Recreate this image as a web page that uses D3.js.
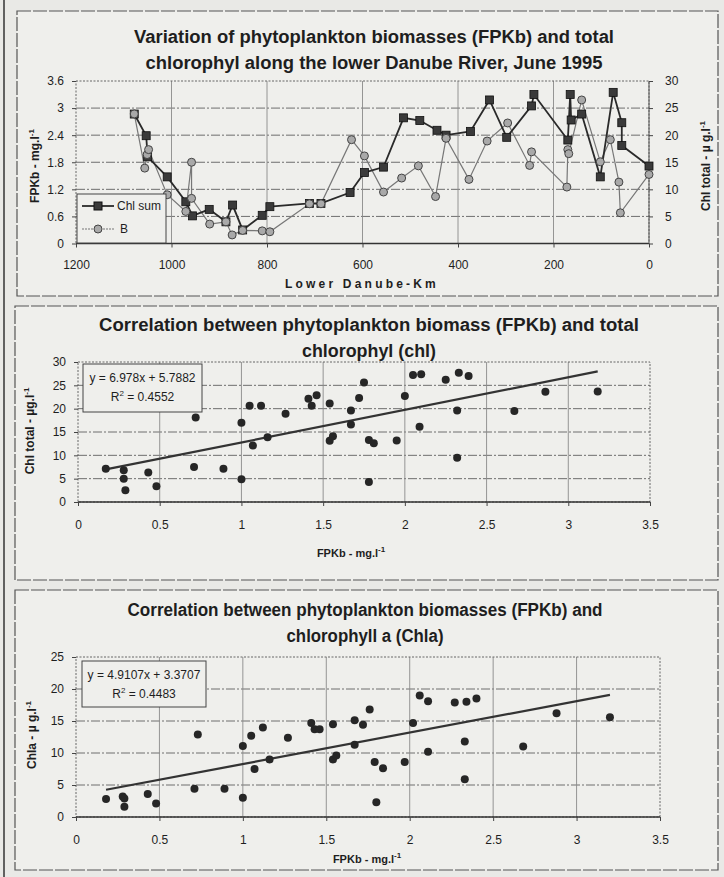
<!DOCTYPE html>
<html>
<head>
<meta charset="utf-8">
<script src="https://cdn.jsdelivr.net/npm/d3@7"></script>
<style>
  body { margin: 0; background: #e9e9e6; }
  svg { display: block; font-family: "Liberation Sans", Arial, sans-serif; }
</style>
</head>
<body>
<svg id="fig" width="724" height="877"></svg>
<script>
// ---- top chart: values along the lower Danube (km from mouth) ----
const chlKm  = [1078, 1053, 1050, 1009, 970, 956, 921, 886, 872, 851, 810, 794, 711, 687, 626, 596, 556, 514, 480, 444, 425, 374, 334, 298, 246, 241, 170, 165, 163, 141, 102, 75, 57, 57, 0];
const chlSum = [23.9, 19.9, 16.0, 12.3, 7.7, 5.1, 6.3, 4.0, 7.1, 2.5, 5.2, 6.8, 7.4, 7.4, 9.4, 13.1, 14.1, 23.2, 22.7, 20.9, 20.0, 20.7, 26.5, 19.6, 25.4, 27.5, 19.1, 27.5, 22.8, 23.9, 12.3, 27.9, 22.3, 18.1, 14.3];
const bKm    = [1078, 1056, 1051, 1048, 1009, 970, 958, 958, 920, 886, 873, 851, 810, 794, 711, 687, 623, 596, 556, 518, 483, 447, 425, 377, 339, 296, 250, 246, 172, 170, 168, 141, 102, 81, 63, 60, 0];
const bVal   = [2.87, 1.67, 1.97, 2.08, 1.08, 0.71, 1.80, 1.00, 0.43, 0.48, 0.19, 0.29, 0.28, 0.26, 0.88, 0.88, 2.30, 1.94, 1.14, 1.45, 1.72, 1.04, 2.33, 1.42, 2.27, 2.67, 1.73, 2.03, 1.25, 2.08, 1.99, 3.18, 1.81, 2.30, 1.36, 0.68, 1.53];
const kmTicks   = [1200, 1000, 800, 600, 400, 200, 0];
const fpkbTicks = [0, 0.6, 1.2, 1.8, 2.4, 3, 3.6];
const chlTicks  = [0, 5, 10, 15, 20, 25, 30];

// ---- middle chart: FPKb vs total chlorophyl ----
const fpkbA = [0.17, 0.28, 0.28, 0.29, 0.43, 0.48, 0.71, 0.72, 0.89, 1.00, 1.00, 1.05, 1.07, 1.12, 1.16, 1.27, 1.41, 1.43, 1.46, 1.54, 1.54, 1.56, 1.67, 1.67, 1.72, 1.75, 1.78, 1.78, 1.81, 1.95, 2.00, 2.05, 2.09, 2.10, 2.25, 2.32, 2.32, 2.33, 2.39, 2.67, 2.86, 3.18];
const chlTot = [7.1, 6.8, 5.0, 2.5, 6.3, 3.4, 7.5, 18.1, 7.1, 17.0, 4.9, 20.6, 12.1, 20.6, 13.9, 18.9, 22.1, 20.6, 22.9, 21.1, 13.1, 14.1, 16.6, 19.6, 22.3, 25.6, 13.3, 4.3, 12.6, 13.2, 22.7, 27.2, 16.1, 27.4, 26.2, 19.6, 9.5, 27.7, 27.0, 19.5, 23.6, 23.7];
const chlFit = [6.978, 5.7882, 0.4552];
const chlXTicks = [0, 0.5, 1, 1.5, 2, 2.5, 3, 3.5];
const chlYTicks = [0, 5, 10, 15, 20, 25, 30];

// ---- bottom chart: FPKb vs chlorophyll a ----
const fpkbB = [0.18, 0.28, 0.29, 0.29, 0.43, 0.48, 0.71, 0.73, 0.89, 1.00, 1.00, 1.05, 1.07, 1.12, 1.16, 1.27, 1.41, 1.43, 1.46, 1.54, 1.54, 1.56, 1.67, 1.67, 1.72, 1.76, 1.79, 1.80, 1.84, 1.97, 2.02, 2.06, 2.11, 2.11, 2.27, 2.33, 2.33, 2.34, 2.40, 2.68, 2.88, 3.20];
const chlaVal = [2.8, 3.2, 2.9, 1.6, 3.6, 2.1, 4.4, 12.9, 4.4, 3.0, 11.1, 12.7, 7.5, 14.0, 9.0, 12.4, 14.7, 13.7, 13.7, 14.5, 9.0, 9.6, 15.1, 11.3, 14.4, 16.8, 8.6, 2.3, 7.6, 8.6, 14.7, 19.0, 18.1, 10.2, 17.9, 11.8, 5.9, 18.0, 18.5, 11.0, 16.2, 15.6];
const chlaFit = [4.9107, 3.3707, 0.4483];
const chlaXTicks = [0, 0.5, 1, 1.5, 2, 2.5, 3, 3.5];
const chlaYTicks = [0, 5, 10, 15, 20, 25];

const svg = d3.select('#fig');
const ink = '#1e1e1e';
const grid = '#8a8a8a';

// page frame and panels
svg.append('line').attr('x1', 4).attr('x2', 4).attr('y1', 0).attr('y2', 877)
  .attr('stroke', '#333').attr('stroke-width', 1.5);
[[17, 11, 701, 285], [15, 306, 703, 274], [15, 590, 703, 280]].forEach(p => {
  svg.append('rect')
    .attr('x', p[0]).attr('y', p[1]).attr('width', p[2]).attr('height', p[3])
    .attr('fill', '#efefec').attr('stroke', '#555').attr('stroke-width', 1.2)
    .attr('stroke-dasharray', '14,2');
});

/**
 * Title of two centred lines, squeezed to the scanned widths
 */
function title(lines, widths, cx, y0) {
  lines.forEach((t, i) => {
    svg.append('text')
      .attr('x', cx).attr('y', y0 + i * 26)
      .attr('text-anchor', 'middle')
      .attr('font-family', '"Liberation Sans Narrow", "Liberation Sans", Arial, sans-serif')
      .attr('font-size', '18px').attr('font-weight', 'bold')
      .attr('textLength', widths[i]).attr('lengthAdjust', 'spacingAndGlyphs')
      .attr('fill', ink).text(t);
  });
}

/**
 * Axis label with an "-1" superscript at the end
 */
function unitLabel(g, main, x, y, rotate, size) {
  const t = g.append('text')
    .attr('transform', `translate(${x},${y})` + (rotate ? ' rotate(-90)' : ''))
    .attr('text-anchor', 'middle')
    .attr('font-size', size).attr('font-weight', 'bold').attr('fill', ink);
  t.append('tspan').text(main);
  t.append('tspan').attr('dy', -5).attr('font-size', '8px').text('-1');
  return t;
}

/**
 * Gridlines, frame and axis line shared by all panels
 */
function frame(x, y, xTicks, yTicks) {
  const [x0, x1] = x.range();
  const [y0, y1] = y.range();
  const g = svg.append('g');
  g.selectAll('.h').data(yTicks.slice(1, -1)).join('line')
    .attr('x1', x0).attr('x2', x1)
    .attr('y1', d => y(d)).attr('y2', d => y(d))
    .attr('stroke', '#6e6e6e').attr('stroke-width', 1)
    .attr('stroke-dasharray', '9,2,2,2');
  g.selectAll('.v').data(xTicks.slice(1, -1)).join('line')
    .attr('x1', d => x(d)).attr('x2', d => x(d))
    .attr('y1', y0).attr('y2', y1)
    .attr('stroke', grid).attr('stroke-width', 0.9);
  g.append('rect')
    .attr('x', Math.min(x0, x1)).attr('y', y1)
    .attr('width', Math.abs(x1 - x0)).attr('height', y0 - y1)
    .attr('fill', 'none').attr('stroke', '#666').attr('stroke-dasharray', '2,1.5');
  g.append('line').attr('x1', x0).attr('x2', x1).attr('y1', y0).attr('y2', y0)
    .attr('stroke', '#333').attr('stroke-width', 1.3);
  return g;
}

function styleAxis(a) {
  a.select('.domain').remove();
  a.selectAll('line').attr('stroke', '#444');
  a.selectAll('text').attr('fill', ink).attr('font-size', '12px')
    .attr('font-family', '"Liberation Sans", Arial, sans-serif');
}

// ================= top chart =================
{
  const x = d3.scaleLinear().domain([1200, 0]).range([76, 649]);
  const yL = d3.scaleLinear().domain([0, 3.6]).range([243.5, 81]);
  const yR = d3.scaleLinear().domain([0, 30]).range([243.5, 81]);

  title(['Variation of phytoplankton biomasses (FPKb) and total',
         'chlorophyl along the lower Danube River, June 1995'], [480, 457], 374, 43);

  frame(x, yL, kmTicks, fpkbTicks)
    .append('line').attr('x1', 649).attr('x2', 649).attr('y1', 81).attr('y2', 243.5)
    .attr('stroke', '#555');

  styleAxis(svg.append('g').attr('transform', 'translate(0,243.5)')
    .call(d3.axisBottom(x).tickValues(kmTicks).tickSize(4).tickPadding(13).tickFormat(d => String(d))));
  styleAxis(svg.append('g').attr('transform', 'translate(76,0)')
    .call(d3.axisLeft(yL).tickValues(fpkbTicks).tickSize(4).tickPadding(8).tickFormat(d => String(d))));
  styleAxis(svg.append('g').attr('transform', 'translate(649,0)')
    .call(d3.axisRight(yR).tickValues(chlTicks).tickSize(4).tickPadding(12).tickFormat(d => String(d))));

  const chlPts = chlKm.map((k, i) => [x(k), yR(chlSum[i])]);
  const bPts = bKm.map((k, i) => [x(k), yL(bVal[i])]);
  const line = d3.line();

  svg.append('path').attr('d', line(bPts))
    .attr('fill', 'none').attr('stroke', '#777').attr('stroke-width', 1.2);
  svg.append('path').attr('d', line(chlPts))
    .attr('fill', 'none').attr('stroke', '#2a2a2a').attr('stroke-width', 1.8);

  svg.append('g').selectAll('rect').data(chlPts).join('rect')
    .attr('x', d => d[0] - 4).attr('y', d => d[1] - 4)
    .attr('width', 8).attr('height', 8)
    .attr('fill', '#3a3a3a').attr('stroke', '#111').attr('stroke-width', 0.8);
  svg.append('g').selectAll('circle').data(bPts).join('circle')
    .attr('cx', d => d[0]).attr('cy', d => d[1]).attr('r', 4)
    .attr('fill', '#a9a9a9').attr('stroke', '#444').attr('stroke-width', 1);

  // legend
  const lg = svg.append('g');
  lg.append('rect').attr('x', 77).attr('y', 194).attr('width', 89).attr('height', 49)
    .attr('fill', '#efefec').attr('stroke', '#444').attr('stroke-width', 1);
  lg.append('line').attr('x1', 82).attr('x2', 114).attr('y1', 206).attr('y2', 206)
    .attr('stroke', '#2a2a2a').attr('stroke-width', 1.8);
  lg.append('rect').attr('x', 94).attr('y', 202).attr('width', 8).attr('height', 8)
    .attr('fill', '#3a3a3a').attr('stroke', '#111');
  lg.append('line').attr('x1', 82).attr('x2', 114).attr('y1', 229).attr('y2', 229)
    .attr('stroke', '#777').attr('stroke-width', 1.2).attr('stroke-dasharray', '2,1');
  lg.append('circle').attr('cx', 98).attr('cy', 229).attr('r', 4)
    .attr('fill', '#a9a9a9').attr('stroke', '#444');
  lg.append('text').attr('x', 117).attr('y', 210).attr('font-size', '12px').attr('fill', ink).text('Chl sum');
  lg.append('text').attr('x', 120).attr('y', 233).attr('font-size', '12px').attr('fill', ink).text('B');

  svg.append('text').attr('x', 362).attr('y', 288).attr('text-anchor', 'middle')
    .attr('font-size', '12px').attr('font-weight', 'bold').attr('letter-spacing', '3.2px')
    .attr('fill', ink).text('Lower Danube-Km');
  unitLabel(svg, 'FPKb - mg.l', 39, 166, true, '12px');
  unitLabel(svg, 'Chl total - \u00b5 g.l', 710, 166, true, '12px');
}

/**
 * Scatter panel with linear trend and equation box
 */
function scatterPanel(o) {
  const x = d3.scaleLinear().domain([0, 3.5]).range(o.xr);
  const y = d3.scaleLinear().domain(d3.extent(o.yTicks)).range(o.yr);
  title(o.title, o.titleW, o.titleX, o.titleY);
  frame(x, y, o.xTicks, o.yTicks);

  styleAxis(svg.append('g').attr('transform', `translate(0,${o.yr[0]})`)
    .call(d3.axisBottom(x).tickValues(o.xTicks).tickSize(4).tickPadding(14).tickFormat(d => String(d))));
  styleAxis(svg.append('g').attr('transform', `translate(${o.xr[0]},0)`)
    .call(d3.axisLeft(y).tickValues(o.yTicks).tickSize(4).tickPadding(8).tickFormat(d => String(d))));

  const [a, b, r2] = o.fit;
  const ext = d3.extent(o.xs);
  svg.append('line')
    .attr('x1', x(ext[0])).attr('y1', y(a * ext[0] + b))
    .attr('x2', x(ext[1])).attr('y2', y(a * ext[1] + b))
    .attr('stroke', '#333').attr('stroke-width', 2.2);

  svg.append('g').selectAll('circle').data(o.xs).join('circle')
    .attr('cx', d => x(d)).attr('cy', (d, i) => y(o.ys[i])).attr('r', 4)
    .attr('fill', '#262626');

  const bx = o.box;
  svg.append('rect').attr('x', bx[0]).attr('y', bx[1]).attr('width', bx[2]).attr('height', bx[3])
    .attr('fill', '#efefec').attr('stroke', '#444');
  svg.append('text').attr('x', bx[0] + bx[2] / 2).attr('y', bx[1] + 18)
    .attr('text-anchor', 'middle').attr('font-size', '12px').attr('fill', ink)
    .text(`y = ${a}x + ${b}`);
  const t2 = svg.append('text').attr('x', bx[0] + bx[2] / 2).attr('y', bx[1] + 37)
    .attr('text-anchor', 'middle').attr('font-size', '12px').attr('fill', ink);
  t2.append('tspan').text('R');
  t2.append('tspan').attr('dy', -5).attr('font-size', '8px').text('2');
  t2.append('tspan').attr('dy', 5).text(` = ${r2}`);

  unitLabel(svg, 'FPKb - mg.l', o.xLabel[0], o.xLabel[1], false, '11px');
  unitLabel(svg, o.yName, o.yLabel[0], o.yLabel[1], true, '12px');
}

scatterPanel({
  title: ['Correlation between phytoplankton biomass (FPKb) and total', 'chlorophyl (chl)'],
  titleW: [540, 134],
  titleX: 369, titleY: 331,
  xr: [78, 650], yr: [502, 362],
  xTicks: chlXTicks, yTicks: chlYTicks,
  xs: fpkbA, ys: chlTot, fit: chlFit,
  box: [83, 364, 119, 48],
  xLabel: [351, 557], yLabel: [34, 431],
  yName: 'Chl total - \u00b5g.l'
});

scatterPanel({
  title: ['Correlation between phytoplankton biomasses (FPKb) and', 'chlorophyll a (Chla)'],
  titleW: [475, 157],
  titleX: 365, titleY: 616,
  xr: [76, 660], yr: [817, 657],
  xTicks: chlaXTicks, yTicks: chlaYTicks,
  xs: fpkbB, ys: chlaVal, fit: chlaFit,
  box: [82, 661, 124, 46],
  xLabel: [367, 863], yLabel: [36, 735],
  yName: 'Chla - \u00b5 g.l'
});
</script>
</body>
</html>
